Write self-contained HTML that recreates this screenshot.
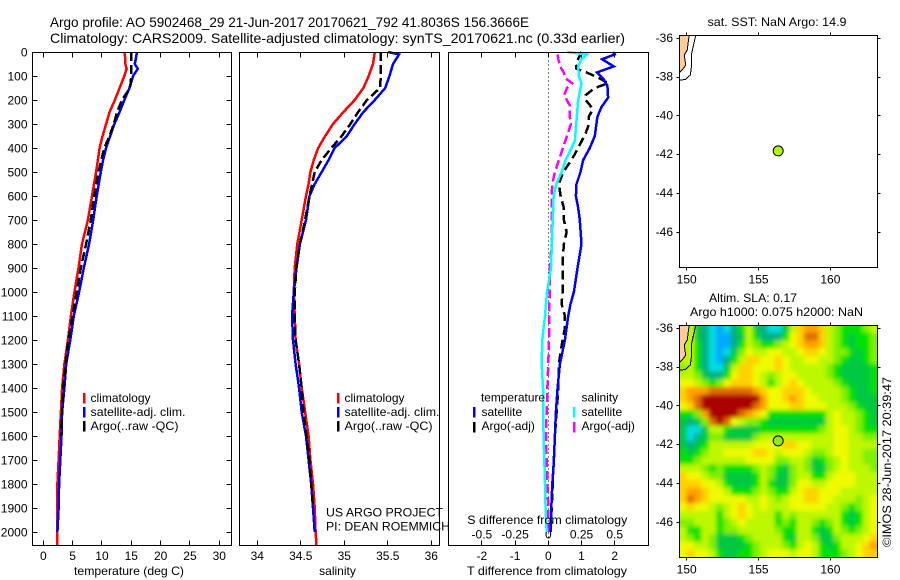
<!DOCTYPE html>
<html>
<head>
<meta charset="utf-8">
<title>Argo profile</title>
<style>
html,body{margin:0;padding:0;background:#fff;}
svg{display:block;}
text{font-family:"Liberation Sans",sans-serif;font-size:12px;fill:#000;}
</style>
</head>
<body>
<svg id="fig" xmlns="http://www.w3.org/2000/svg" width="900" height="580" viewBox="0 0 900 580">
<defs>
<clipPath id="clip-sla"><rect x="679.5" y="325.5" width="198" height="232"/></clipPath>
<clipPath id="clip-sst"><rect x="679.5" y="35.5" width="198" height="232"/></clipPath>
<filter id="soft" x="-10%" y="-10%" width="120%" height="120%"><feGaussianBlur stdDeviation="2"/></filter>
</defs>
<rect x="0" y="0" width="900" height="580" fill="#fff"/>
<g id="plots"></g>
<g>
<text x="50" y="27" style="font-size:14px" textLength="479" lengthAdjust="spacingAndGlyphs">Argo profile: AO 5902468_29 21-Jun-2017 20170621_792 41.8036S 156.3666E</text>
<text x="50" y="43" style="font-size:14px" textLength="575" lengthAdjust="spacingAndGlyphs">Climatology: CARS2009. Satellite-adjusted climatology: synTS_20170621.nc (0.33d earlier)</text>
<text x="129" y="575" text-anchor="middle" textLength="110" lengthAdjust="spacingAndGlyphs">temperature (deg C)</text>
<text x="337.5" y="575" text-anchor="middle">salinity</text>
<text x="547" y="575" text-anchor="middle" textLength="160" lengthAdjust="spacingAndGlyphs">T difference from climatology</text>
<text x="467.3" y="524" textLength="160" lengthAdjust="spacingAndGlyphs">S difference from climatology</text>
<text x="326" y="516.5" textLength="117" lengthAdjust="spacingAndGlyphs">US ARGO PROJECT</text>
<text x="326" y="530.5" textLength="124" lengthAdjust="spacingAndGlyphs">PI: DEAN ROEMMICH</text>
<text x="777" y="26" text-anchor="middle" textLength="139" lengthAdjust="spacingAndGlyphs">sat. SST: NaN Argo: 14.9</text>
<text x="709" y="302" textLength="88" lengthAdjust="spacingAndGlyphs">Altim. SLA: 0.17</text>
<text x="690" y="316" textLength="173" lengthAdjust="spacingAndGlyphs">Argo h1000: 0.075 h2000: NaN</text>
<text transform="translate(891,547) rotate(-90)" textLength="170" lengthAdjust="spacingAndGlyphs">©IMOS 28-Jun-2017 20:39:47</text>
</g>
<g>
<rect x="83" y="393" width="2.5" height="10.5" fill="#f00"/>
<rect x="83" y="407" width="2.5" height="10.5" fill="#00f"/>
<rect x="83" y="421" width="2.5" height="10.5" fill="#000"/>
<text x="90.5" y="402">climatology</text>
<text x="90.5" y="416" textLength="95" lengthAdjust="spacingAndGlyphs">satellite-adj. clim.</text>
<text x="90.5" y="430" textLength="88" lengthAdjust="spacingAndGlyphs">Argo(..raw -QC)</text>
</g>
<g>
<rect x="337" y="393" width="2.5" height="10.5" fill="#f00"/>
<rect x="337" y="407" width="2.5" height="10.5" fill="#00f"/>
<rect x="337" y="421" width="2.5" height="10.5" fill="#000"/>
<text x="344.5" y="402">climatology</text>
<text x="344.5" y="416" textLength="95" lengthAdjust="spacingAndGlyphs">satellite-adj. clim.</text>
<text x="344.5" y="430" textLength="88" lengthAdjust="spacingAndGlyphs">Argo(..raw -QC)</text>
</g>
<g>
<text x="481" y="401.5" textLength="64" lengthAdjust="spacingAndGlyphs">temperature</text>
<text x="581.5" y="401.5">salinity</text>
<rect x="473" y="407" width="2.5" height="10.5" fill="#00f"/>
<rect x="473" y="422" width="2.5" height="10.5" fill="#000"/>
<rect x="573" y="407" width="2.5" height="10.5" fill="#0ff"/>
<rect x="573" y="422" width="2.5" height="10.5" fill="#f0f"/>
<text x="481.5" y="416">satellite</text>
<text x="481.5" y="430">Argo(-adj)</text>
<text x="581.5" y="416">satellite</text>
<text x="581.5" y="430">Argo(-adj)</text>
</g>
</svg>
<script>
// ---- tick labels ----
const depthTicks = [0,100,200,300,400,500,600,700,800,900,1000,1100,1200,1300,1400,1500,1600,1700,1800,1900,2000];
const temperatureTicks = [0,5,10,15,20,25,30];
const salinityTicks = [34,34.5,35,35.5,36];
const tDiffTicks = [-2,-1,0,1,2];
const sDiffTicks = [-0.5,-0.25,0,0.25,0.5];
const lonTicks = [150,155,160];
const latTicks = [-36,-38,-40,-42,-44,-46];

// ---- temperature profiles ----
const tempDepths = [0,10,50,70,100,150,200,250,300,350,400,450,500,600,700,800,900,1000,1100,1200,1300,1400,1500,1600,1700,1800,1900,2000,2055];
const tempClim = [13.9,13.9,14.0,14.2,13.8,13.0,12.2,11.3,10.7,10.1,9.6,9.3,9.0,8.3,7.6,6.6,6.0,5.3,4.7,4.2,3.6,3.2,3.0,2.8,2.6,2.4,2.4,2.4,2.4];
const tempSatDepths = [0,10,50,70,100,150,200,250,300,350,400,450,500,600,700,800,900,1000,1100,1200,1300,1400,1500,1600,1700,1800,1900,2000];
const tempSat = [15.9,15.9,15.6,16.1,15.3,14.7,13.8,13.0,12.1,11.4,10.7,10.2,9.8,9.1,8.5,7.8,6.9,6.1,5.2,4.6,3.9,3.6,3.2,3.1,2.9,2.7,2.6,2.4];
const tempArgoDepths = [0,100,150,200,250,300,350,400,500,600,700,800,900,1000,1100,1200,1300,1400,1500,1600];
const tempArgo = [15.0,15.0,14.8,13.4,12.6,12.0,11.3,10.4,9.4,8.7,8.1,7.3,6.4,5.7,5.0,4.3,3.8,3.4,3.2,3.0];

// ---- salinity profiles ----
const salClimDepths = [0,50,100,150,200,250,300,350,400,450,500,550,600,700,800,900,1000,1100,1200,1300,1400,1500,1600,1700,1800,1900,2000,2055];
const salClim = [35.35,35.33,35.28,35.22,35.12,34.99,34.87,34.78,34.70,34.65,34.61,34.59,34.56,34.51,34.46,34.43,34.42,34.43,34.44,34.48,34.51,34.55,34.59,34.61,34.64,34.66,34.67,34.68];
const salSatDepths = [0,10,50,100,150,200,250,300,350,400,450,500,550,600,700,800,900,1000,1100,1200,1300,1400,1500,1600,1700,1800,1900,2000];
const salSat = [35.50,35.63,35.56,35.52,35.47,35.35,35.22,35.12,35.03,34.89,34.82,34.74,34.66,34.60,34.56,34.49,34.45,34.42,34.40,34.41,34.44,34.48,34.51,34.56,34.59,34.62,34.64,34.66];
const salArgoDepths = [0,100,150,200,250,300,350,400,450,500,550,600,700,800,900,1000,1100,1200,1300,1400,1500,1700,1900];
const salArgo = [35.42,35.42,35.41,35.26,35.16,35.07,34.97,34.85,34.74,34.66,34.63,34.60,34.55,34.49,34.45,34.43,34.43,34.44,34.48,34.51,34.53,34.60,34.64];

// ---- difference profiles ----
const tSatDepths = [0,10,30,60,85,110,140,190,230,270,350,400,450,500,550,600,650,700,800,900,1000,1050,1100,1200,1300,1400,1500,1600,1700,1800,1900,2000];
const tSatDiff = [1.95,2.0,1.62,1.97,1.47,1.65,1.78,1.8,1.6,1.48,1.4,1.25,1.05,0.97,0.85,0.83,0.9,0.95,1.0,0.88,0.77,0.67,0.6,0.5,0.35,0.28,0.23,0.2,0.17,0.12,0.09,0.07];
const tArgoDepths = [0,20,50,70,85,110,130,150,180,200,220,240,270,300,340,400,450,500,550,600,650,700,750,800,870,950,1000,1050,1100,1150,1200,1250,1300,1400,1500,1600,2000];
const tArgoDiff = [1.0,0.93,0.83,0.85,1.15,1.55,1.8,1.4,1.12,1.12,1.25,1.33,1.22,1.23,1.12,0.9,0.7,0.45,0.32,0.37,0.47,0.47,0.55,0.47,0.43,0.43,0.43,0.4,0.5,0.5,0.43,0.37,0.32,0.3,0.25,0.2,0.07];
const sSatDepths = [0,10,30,60,100,130,200,300,370,400,450,500,550,600,650,750,900,1000,1100,1200,1300,1400,1500,1700,1800,1900,2000];
const sSatDiff = [0.14,0.29,0.25,0.225,0.23,0.25,0.225,0.21,0.2,0.175,0.13,0.1,0.06,0.04,0.037,0.03,0.02,-0.01,-0.025,-0.045,-0.05,-0.04,-0.04,-0.03,-0.025,-0.02,-0.012];
const sArgoDepths = [10,30,60,90,110,130,150,180,220,260,300,350,400,450,500,550,600,700,800,900,1000,1100,1200,1300,1400,1500,1600,1700,1800,1900,2000];
const sArgoDiff = [0.07,0.075,0.09,0.12,0.13,0.18,0.14,0.12,0.16,0.16,0.17,0.14,0.11,0.08,0.05,0.03,0.025,0.025,0.025,0.012,0.012,0.005,0.005,0,-0.007,-0.012,-0.017,-0.012,-0.007,0,0];

// ---- map data ----
const argoLon = [156.3666];
const argoLat = [-41.8036];
const landLons = [149.49,150.18,150.11,150.04,149.83,149.93,149.77,149.49];
const landLats = [-35.83,-35.83,-36.17,-36.60,-36.86,-37.38,-37.55,-37.77];
const contourLons = [150.63,150.35,150.35,150.25,149.9,149.49];
const contourLats = [-35.83,-36.77,-37.38,-37.89,-38.13,-38.15];

// ---- altimetry SLA colour levels (0 = low ... 11 = high), rows north to south ----
const slaGrid = [
[6,6,3,2,1,0,1,2,4,6,3,2,1,1,3,6,8,9,9,8,6,5,4,4,4,5,6],
[6,6,3,2,1,0,0,2,3,6,4,2,2,2,4,7,8,10,10,8,6,5,4,3,4,4,5],
[6,6,4,2,1,0,0,2,4,6,5,4,4,5,6,7,8,9,9,8,6,5,4,3,4,4,5],
[6,6,4,2,1,0,1,3,5,7,6,6,7,7,6,6,7,8,8,7,6,5,5,4,3,4,5],
[6,6,4,2,1,0,2,4,6,8,8,7,7,8,7,6,6,7,7,6,6,5,4,3,3,4,5],
[5,6,4,2,1,1,3,6,8,8,7,7,7,8,7,6,6,6,6,6,5,4,3,3,3,3,4],
[6,6,5,3,2,2,4,7,8,8,7,6,5,6,7,7,6,6,6,6,5,4,3,3,3,3,4],
[7,7,6,5,4,5,7,8,8,8,7,6,4,6,7,8,7,6,6,6,6,5,4,3,3,3,4],
[8,9,9,9,10,10,10,10,10,10,9,8,7,7,8,8,8,7,6,6,6,6,5,4,3,3,4],
[8,9,10,11,11,11,11,11,11,11,11,9,7,7,8,9,8,7,7,6,6,6,5,4,3,3,3],
[7,8,10,11,11,11,11,11,11,11,10,9,7,7,7,8,8,7,7,7,6,6,6,5,4,3,3],
[4,4,5,9,11,11,11,11,10,9,8,7,4,4,4,4,4,4,4,4,6,7,6,6,5,4,3],
[3,2,3,5,10,11,10,7,6,5,5,4,3,3,3,3,3,3,3,3,6,7,6,6,5,4,3],
[3,1,1,3,6,6,4,3,3,3,3,4,4,4,4,4,4,4,4,5,6,7,7,6,5,4,4],
[3,1,2,3,5,5,3,3,3,3,5,6,6,6,6,6,6,6,6,6,6,7,7,6,6,5,5],
[3,2,3,4,6,6,6,6,6,6,7,7,7,7,8,8,7,7,6,6,6,7,7,6,6,6,6],
[4,3,4,5,6,6,7,7,7,7,8,8,7,6,7,7,7,6,5,5,6,7,7,6,6,5,5],
[4,4,5,6,6,6,6,6,6,7,7,7,7,5,5,6,6,5,3,4,5,6,7,6,6,5,5],
[6,6,6,5,4,5,4,4,4,4,5,6,5,4,3,5,6,5,3,3,5,6,7,6,6,6,5],
[8,7,7,6,5,5,3,3,3,3,4,6,5,3,3,5,6,6,4,4,6,7,7,7,6,6,6],
[8,8,8,7,7,6,4,3,3,3,4,6,4,3,3,5,7,7,6,6,7,7,7,7,6,6,6],
[8,9,9,8,7,7,6,4,4,4,5,6,5,4,4,6,7,8,8,7,7,7,6,6,6,6,6],
[8,10,9,8,7,7,7,7,7,6,6,7,6,5,6,7,7,8,8,7,7,6,6,6,5,6,7],
[7,8,7,7,6,5,6,7,8,7,6,7,6,6,6,7,7,7,7,7,6,6,5,4,5,6,7],
[6,6,6,6,6,4,6,7,8,7,6,6,6,4,6,5,6,6,6,6,6,6,4,3,4,6,7],
[5,5,6,6,6,4,5,6,7,6,6,6,6,4,5,4,6,6,5,4,5,6,4,3,4,6,7],
[6,4,4,6,6,4,5,5,6,6,6,6,6,5,4,4,6,6,4,3,4,6,5,4,5,6,7],
[6,5,4,6,5,3,3,3,4,5,6,6,6,6,4,3,6,6,5,3,3,5,6,6,6,7,8],
[7,7,6,6,5,3,3,3,3,4,5,6,6,6,5,4,6,7,6,4,3,4,6,6,7,8,9],
[7,8,7,7,6,4,3,3,4,4,5,6,7,7,7,6,7,7,6,4,4,4,5,6,7,8,8]
];

// ---- axis functions ----
const yDepth = d => 52 + d * 0.24;
const xTemp = v => 43.3 + v * 5.867;
const xSal = v => 257.3 + (v - 34) * 87;
const xTDiff = v => 548.3 + v * 33.2;
const xSDiff = v => 548.3 + v * 132.8;
const xLon = v => 686.7 + (v - 150) * 14.37;
const ySst = v => 38.3 + (-36 - v) * 19.4;
const ySla = v => 328.3 + (-36 - v) * 19.4;

const NS = 'http://www.w3.org/2000/svg';
const plots = document.getElementById('plots');
function el(parent, tag, attrs, txt) {
  const e = document.createElementNS(NS, tag);
  for (const k in attrs) e.setAttribute(k, attrs[k]);
  if (txt !== undefined) e.textContent = txt;
  parent.appendChild(e);
  return e;
}
function group(parent, name) {
  const g = el(parent, 'g', {});
  
  
  return g;
}
function series(parent, name, xs, ys, xf, yf, color, width, dash) {
  const pts = xs.map((v, i) => xf(v).toFixed(1) + ',' + yf(ys[i]).toFixed(1)).join(' ');
  const p = el(parent, 'polyline', {points: pts, fill: 'none', stroke: color, 'stroke-width': width, 'stroke-linejoin': 'miter', 'shape-rendering': 'crispEdges'});
  if (dash) p.setAttribute('stroke-dasharray', dash);
  
  
  return p;
}
function frame(parent, x, y, w, h) {
  const r = el(parent, 'rect', {x: x, y: y, width: w, height: h, fill: 'none', stroke: '#000', 'stroke-width': 1, 'shape-rendering': 'crispEdges'});
  
  
}
function tick(parent, x1, y1, x2, y2) {
  const vertical = x1 === x2;
  const t = el(parent, 'line', {
    x1: vertical ? Math.floor(x1) + 0.5 : x1,
    y1: vertical ? y1 : Math.floor(y1) + 0.5,
    x2: vertical ? Math.floor(x2) + 0.5 : x2,
    y2: vertical ? y2 : Math.floor(y2) + 0.5,
    stroke: '#000', 'stroke-width': 1, 'shape-rendering': 'crispEdges'
  });
  
  
}
function label(parent, x, y, s, anchor) {
  const t = el(parent, 'text', {x: x, y: y, 'text-anchor': anchor}, s);
  
  
}
function xTicksIn(g, vals, xf) {
  vals.forEach(v => {
    tick(g, xf(v), 52.5, xf(v), 57.5);
    tick(g, xf(v), 545.5, xf(v), 540.5);
  });
}

// ---- temperature panel ----
const gT = group(plots, 'temperature-panel');
depthTicks.forEach(d => {
  tick(gT, 32.5, yDepth(d), 37.5, yDepth(d));
  tick(gT, 231.5, yDepth(d), 226.5, yDepth(d));
  label(gT, 27.5, yDepth(d) + 4.5, String(d), 'end');
});
xTicksIn(gT, temperatureTicks, xTemp);
temperatureTicks.forEach(v => label(gT, xTemp(v), 560, String(v), 'middle'));
series(gT, 'temperature-climatology-line', tempClim, tempDepths, xTemp, yDepth, '#f00', 2.5);
series(gT, 'temperature-satellite-line', tempSat, tempSatDepths, xTemp, yDepth, '#00f', 2.5);
series(gT, 'temperature-argo-line', tempArgo, tempArgoDepths, xTemp, yDepth, '#000', 2.5, '9 4');
frame(gT, 32.5, 52.5, 199, 493);

// ---- salinity panel ----
const gS = group(plots, 'salinity-panel');
xTicksIn(gS, salinityTicks, xSal);
salinityTicks.forEach(v => label(gS, xSal(v), 560, String(v), 'middle'));
series(gS, 'salinity-climatology-line', salClim, salClimDepths, xSal, yDepth, '#f00', 2.5);
series(gS, 'salinity-satellite-line', salSat, salSatDepths, xSal, yDepth, '#00f', 2.5);
series(gS, 'salinity-argo-line', salArgo, salArgoDepths, xSal, yDepth, '#000', 2.5, '9 4');
frame(gS, 239.5, 52.5, 200, 493);

// ---- difference panel ----
const gD = group(plots, 'difference-panel');
const zero = el(gD, 'line', {x1: 548.5, y1: 52.5, x2: 548.5, y2: 545.5, stroke: '#000', 'stroke-width': 1, 'stroke-dasharray': '1 3', 'shape-rendering': 'crispEdges'});


xTicksIn(gD, tDiffTicks, xTDiff);
tDiffTicks.forEach(v => label(gD, xTDiff(v), 560, String(v), 'middle'));
sDiffTicks.forEach(v => label(gD, xSDiff(v), 538.5, String(v), 'middle'));
series(gD, 't-difference-argo-line', tArgoDiff, tArgoDepths, xTDiff, yDepth, '#000', 2.5, '9 5');
series(gD, 's-difference-argo-line', sArgoDiff, sArgoDepths, xSDiff, yDepth, '#f0f', 2.5, '9 4');
series(gD, 't-difference-satellite-line', tSatDiff, tSatDepths, xTDiff, yDepth, '#00f', 2.5);
series(gD, 's-difference-satellite-line', sSatDiff, sSatDepths, xSDiff, yDepth, '#0ff', 2.5);
frame(gD, 448.5, 52.5, 200, 493);

// ---- map furniture ----
function mapFurniture(g, yf, top, bottom) {
  lonTicks.forEach(v => {
    tick(g, xLon(v), top, xLon(v), top - 3);
    tick(g, xLon(v), bottom, xLon(v), bottom + 3);
    label(g, xLon(v), bottom + 16, String(v), 'middle');
  });
  latTicks.forEach(v => {
    tick(g, 679.5, yf(v), 676.5, yf(v));
    tick(g, 877.5, yf(v), 880.5, yf(v));
    label(g, 673, yf(v) + 3.5, String(v), 'end');
  });
}
function coast(g, yf) {
  const land = el(g, 'polygon', {points: landLons.map((v, i) => xLon(v).toFixed(1) + ',' + yf(landLats[i]).toFixed(1)).join(' '), fill: '#ffcc99', stroke: 'none'});
  
  
  series(g, 'coastline', landLons.slice(1), landLats.slice(1), xLon, yf, '#000', 1);
  series(g, 'depth-contour', contourLons, contourLats, xLon, yf, '#000', 1);
}
function argoMarker(g, yf, fill) {
  const c = el(g, 'circle', {cx: xLon(argoLon[0]), cy: yf(argoLat[0]), r: 5, fill: fill, stroke: '#000', 'stroke-width': 1});
  
  
}

// ---- SST map ----
const gM = group(plots, 'sst-map');
const gMc = el(gM, 'g', {'clip-path': 'url(#clip-sst)'});
coast(gMc, ySst);
frame(gM, 679.5, 35.5, 198, 232);
mapFurniture(gM, ySst, 35.5, 267.5);
argoMarker(gM, ySst, '#b4f500');

// ---- SLA map ----
function slaColor(level) {
  const stops = ['#00aaff','#00dde0','#00b080','#00c840','#00e100','#80f000','#bef800','#f0fa00','#ffd200','#ffa000','#e06c00','#aa0000'];
  return stops[Math.max(0, Math.min(11, Math.round(level)))];
}
const gL = group(plots, 'sla-map');
const gLc = el(gL, 'g', {'clip-path': 'url(#clip-sla)'});
const gCells = el(gLc, 'g', {filter: 'url(#soft)'});
const lonMin = 149.49, lonMax = 163.27, latMax = -35.83, latMin = -47.8;
const nRows = slaGrid.length;
slaGrid.forEach((row, r) => {
  row.forEach((v, c) => {
    const dLon = (lonMax - lonMin) / row.length, dLat = (latMax - latMin) / nRows;
    let x0 = xLon(lonMin + c * dLon), x1 = xLon(lonMin + (c + 1) * dLon) + 0.4;
    let y0 = ySla(latMax - r * dLat), y1 = ySla(latMax - (r + 1) * dLat) + 0.4;
    if (c === 0) x0 -= 14;
    if (c === row.length - 1) x1 += 14;
    if (r === 0) y0 -= 14;
    if (r === nRows - 1) y1 += 14;
    const cell = el(gCells, 'rect', {x: x0.toFixed(1), y: y0.toFixed(1), width: (x1 - x0).toFixed(1), height: (y1 - y0).toFixed(1), fill: slaColor(v)});
    
    
  });
});
coast(gLc, ySla);
frame(gL, 679.5, 325.5, 198, 232);
mapFurniture(gL, ySla, 325.5, 557.5);
argoMarker(gL, ySla, '#96eb00');
</script>
</body>
</html>
